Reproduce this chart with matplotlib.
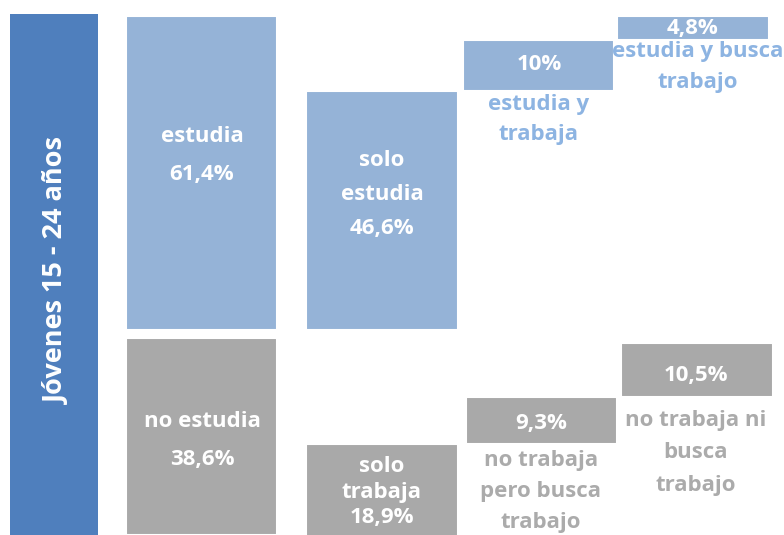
import matplotlib.pyplot as plt

# data (percent of young people 15-24)
total_label = 'Jóvenes 15 - 24 años'
total_val = 100.0
main_labels = ['estudia', 'no estudia']
main_vals = [61.4, 38.6]
study_labels = ['solo\nestudia', 'estudia y\ntrabaja', 'estudia y busca\ntrabajo']
study_vals = [46.6, 10.0, 4.8]
nostudy_labels = ['solo\ntrabaja', 'no trabaja\npero busca\ntrabajo', 'no trabaja ni\nbusca\ntrabajo']
nostudy_vals = [18.9, 9.3, 10.5]

def pct(v):
    s = ('%.1f' % v).replace('.', ',')
    return s[:-2] + '%' if s.endswith(',0') else s + '%'

dark_blue = '#4F7FBD'
light_blue = '#95B3D7'
gray = '#A9A9A9'
blue_txt = '#8DB4E2'
gray_txt = '#ABABAB'

plt.rcParams['font.family'] = ['Open Sans', 'DejaVu Sans']

fig = plt.figure(figsize=(7.84, 5.35), dpi=100)
ax = fig.add_axes([0, 0, 1, 1])
ax.set_xlim(0, 784)
ax.set_ylim(101.6, -3.1)
ax.axis('off')
PX = 535 / 104.7   # pixels per percent point


def label(x, yc, text, color='white', spacing=30, size=16):
    # stack lines around a centre, spacing given in pixels
    rows = text.split('\n')
    n = len(rows)
    for i, r in enumerate(rows):
        ax.text(x, yc + (i - (n - 1) / 2) * spacing / PX, r, ha='center', va='center',
                color=color, fontsize=size, fontweight='bold')


gap = 1.6   # space between the two groups
xs = [54, 202, 382, 539, 693]
ws = [88, 151, 152, 151, 152]
lw = 1.5

# total column
ax.bar(xs[0], total_val + gap + 1, bottom=-0.4, width=ws[0], color=dark_blue)
ax.text(xs[0] + 3, 49.8, total_label, rotation=90, ha='center', va='center',
        color='white', fontsize=19.5, fontweight='bold')

# estudia / no estudia
ax.bar(xs[1], main_vals[0], bottom=0, width=ws[1], color=light_blue, edgecolor='white', linewidth=lw)
ax.bar(xs[1], main_vals[1], bottom=main_vals[0] + gap, width=ws[1], color=gray, edgecolor='white', linewidth=lw)
label(xs[1], 27.4, main_labels[0] + '\n' + pct(main_vals[0]), spacing=38)
label(xs[1], 83.2, main_labels[1] + '\n' + pct(main_vals[1]), spacing=38)

# study branch: waterfall going up from the base of "estudia"
base = main_vals[0]
tops = []
for v in study_vals:
    tops.append(base - v)
    base -= v
for i, (v, t) in enumerate(zip(study_vals, tops)):
    ax.bar(xs[i + 2], v, bottom=t, width=ws[i + 2], color=light_blue, edgecolor='white', linewidth=lw)

label(xs[2], 34.9, study_labels[0] + '\n' + pct(study_vals[0]), spacing=34)
label(xs[3], 9.6, pct(study_vals[1]))
label(xs[3], 20.2, study_labels[1], color=blue_txt, spacing=30)
label(xs[4], 2.4, pct(study_vals[2]))
label(xs[4] + 5, 10.1, study_labels[2], color=blue_txt, spacing=31)

# no-study branch: waterfall going down from the top of "no estudia"
start = main_vals[0] + gap + 1.0
bottoms = []
for v in nostudy_vals[::-1]:
    bottoms.append(start)
    start += v
bottoms = bottoms[::-1]
for i, (v, b) in enumerate(zip(nostudy_vals, bottoms)):
    ax.bar(xs[i + 2] + (0 if i == 0 else 2 + i), v, bottom=b, width=ws[i + 2], color=gray,
           edgecolor='white', linewidth=lw)

label(xs[2], 93.2, nostudy_labels[0] + '\n' + pct(nostudy_vals[0]), spacing=25.5)
label(xs[3] + 2, 79.7, pct(nostudy_vals[1]))
label(xs[3] + 2, 93.1, nostudy_labels[1], color=gray_txt, spacing=31)
label(xs[4] + 3, 70.3, pct(nostudy_vals[2]))
label(xs[4] + 3, 85.5, nostudy_labels[2], color=gray_txt, spacing=32.5)

fig.savefig('out.png', dpi=100)
